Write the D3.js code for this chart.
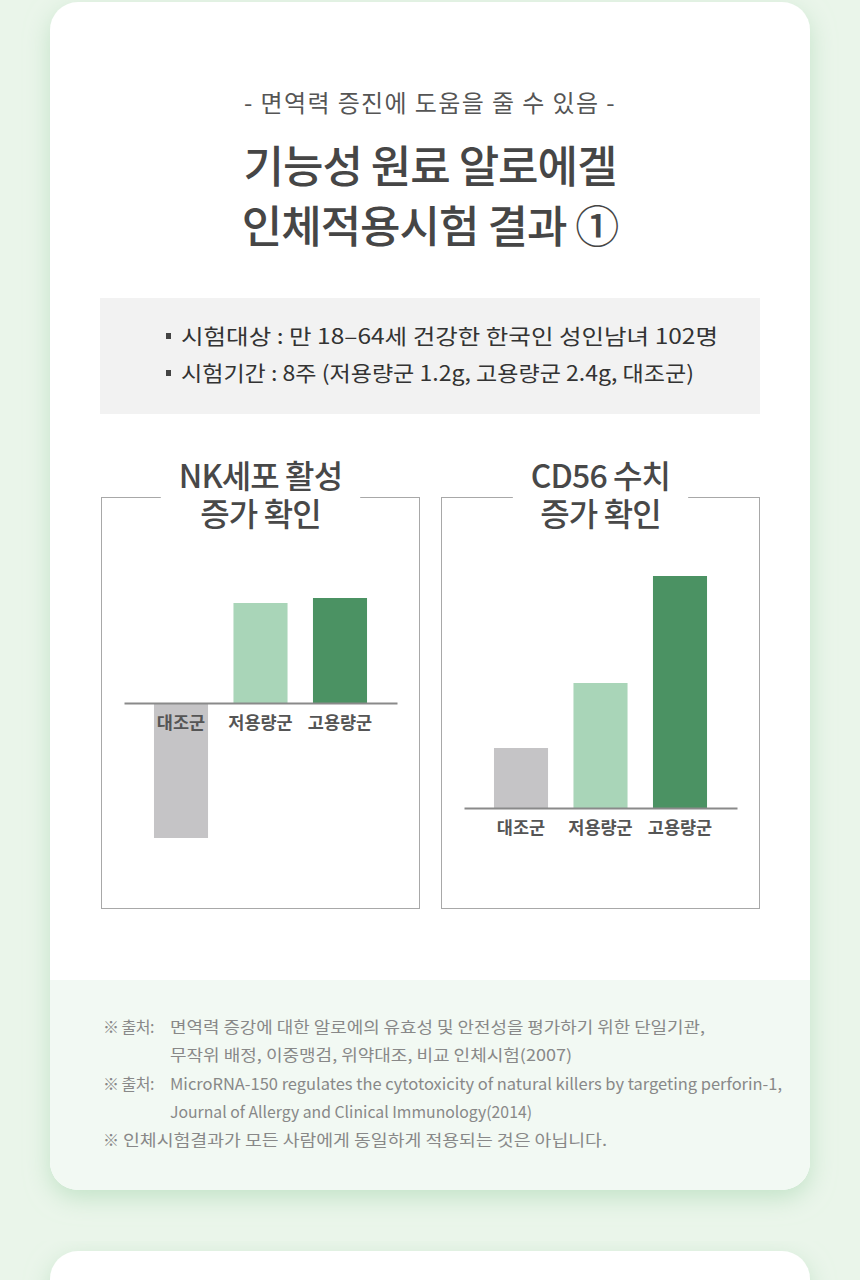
<!DOCTYPE html>
<html>
<head>
<meta charset="utf-8">
<script src="https://cdn.jsdelivr.net/npm/d3@7"></script>
<style>
  html, body { margin: 0; padding: 0; background: #eaf5ea; }
  svg { display: block; font-family: "Noto Sans CJK KR", "Noto Sans", sans-serif; }
</style>
</head>
<body>
<svg id="chart" width="860" height="1280"></svg>
<script>
// chart data (relative bar heights)
var groups = ["대조군", "저용량군", "고용량군"];
var nkValues = [-1.35, 1.00, 1.05];
var cd56Values = [0.60, 1.25, 2.32];
var barColors = ["#c5c4c6", "#a9d5b8", "#4b9263"];

var subtitle = "- 면역력 증진에 도움을 줄 수 있음 -";
var titleLines = ["기능성 원료 알로에겔", "인체적용시험 결과 ①"];
var infoLines = ["시험대상 : 만 18–64세 건강한 한국인 성인남녀 102명",
                 "시험기간 : 8주 (저용량군 1.2g, 고용량군 2.4g, 대조군)"];
var infoWidths = [537, 513];
var panelTitles = [["NK세포 활성", "증가 확인"], ["CD56 수치", "증가 확인"]];
var footLines = [
  ["※ 출처:", "면역력 증강에 대한 알로에의 유효성 및 안전성을 평가하기 위한 단일기관,"],
  ["", "무작위 배정, 이중맹검, 위약대조, 비교 인체시험(2007)"],
  ["※ 출처:", "MicroRNA-150 regulates the cytotoxicity of natural killers by targeting perforin-1,"],
  ["", "Journal of Allergy and Clinical Immunology(2014)"],
  ["※", "인체시험결과가 모든 사람에게 동일하게 적용되는 것은 아닙니다."]
];
var footWidths = [535, 402, 612, 362, 484];

var svg = d3.select("#chart");
var defs = svg.append("defs");
var shadow = defs.append("filter").attr("id", "shadow")
    .attr("x", "-10%").attr("y", "-10%").attr("width", "120%").attr("height", "120%");
shadow.append("feDropShadow").attr("dx", 0).attr("dy", 8).attr("stdDeviation", 12)
    .attr("flood-color", "#b9dfc0").attr("flood-opacity", 0.8);

// card background
var clip = defs.append("clipPath").attr("id", "cardclip");
clip.append("rect").attr("x", 50).attr("y", 2).attr("width", 760).attr("height", 1188).attr("rx", 28);
svg.append("rect").attr("x", 50).attr("y", 2).attr("width", 760).attr("height", 1188)
    .attr("rx", 28).attr("fill", "#fff").attr("filter", "url(#shadow)");
svg.append("rect").attr("x", 50).attr("y", 980).attr("width", 760).attr("height", 210)
    .attr("fill", "#f2f9f3").attr("clip-path", "url(#cardclip)");
// next card peeking at the bottom
svg.append("rect").attr("x", 50).attr("y", 1251).attr("width", 760).attr("height", 100)
    .attr("rx", 28).attr("fill", "#fff").attr("filter", "url(#shadow)");

// header
svg.append("text").attr("x", 430).attr("y", 112).attr("text-anchor", "middle")
    .attr("font-size", 24).attr("fill", "#555").attr("letter-spacing", 1.4).text(subtitle);
svg.selectAll(".title").data(titleLines).join("text")
    .attr("x", 430).attr("y", function(d, i) { return 183 + i * 60; })
    .attr("text-anchor", "middle").attr("font-size", 44).attr("font-weight", 500)
    .attr("fill", "#464646").attr("letter-spacing", -1).text(function(d) { return d; });

// info box
svg.append("rect").attr("x", 100).attr("y", 298).attr("width", 660).attr("height", 116).attr("fill", "#f2f2f2");
var info = svg.selectAll(".info").data(infoLines).join("g")
    .attr("transform", function(d, i) { return "translate(166," + (344 + i * 37) + ")"; });
info.append("rect").attr("x", 0).attr("y", -11).attr("width", 5).attr("height", 6).attr("fill", "#444");
info.append("text").attr("x", 15).attr("font-size", 21).attr("fill", "#333")
    .attr("textLength", function(d, i) { return infoWidths[i]; })
    .attr("lengthAdjust", "spacingAndGlyphs")
    .text(function(d) { return d; });

// panels
function drawPanel(px, values, titles, baseY, yDomain) {
  var g = svg.append("g");
  var top = 497, bottom = 908, w = 318;
  g.append("rect").attr("x", px + 0.5).attr("y", top + 0.5).attr("width", w).attr("height", bottom - top)
      .attr("fill", "none").attr("stroke", "#a8a8a8").attr("stroke-width", 1);
  var cx = px + w / 2 + 0.5;
  // two-line title in one text element
  var t = g.append("text").attr("text-anchor", "middle").attr("font-size", 32).attr("font-weight", 500)
      .attr("fill", "#484848").attr("letter-spacing", -0.9);
  t.selectAll("tspan").data(titles).join("tspan")
      .attr("x", cx).attr("y", function(d, i) { return 488 + i * 38; })
      .text(function(d) { return d; });
  var bb = t.node().getBBox();
  g.insert("rect", "text").attr("x", bb.x - 18).attr("y", bb.y).attr("width", bb.width + 36)
      .attr("height", bb.height).attr("fill", "#fff");

  var x = d3.scaleBand().domain(groups).range([px + 23, px + 296]).paddingInner(0.32).paddingOuter(0.377);
  var y = d3.scaleLinear().domain(yDomain).range([baseY, baseY - 100]);
  g.selectAll(".bar").data(values).join("rect")
      .attr("x", function(d, i) { return x(groups[i]); })
      .attr("width", x.bandwidth())
      .attr("y", function(d) { return Math.min(y(d), y(0)); })
      .attr("height", function(d) { return Math.abs(y(d) - y(0)); })
      .attr("fill", function(d, i) { return barColors[i]; });
  var axis = g.append("g").attr("transform", "translate(0," + y(0) + ")")
      .call(d3.axisBottom(x).tickSize(0).tickPadding(9));
  axis.select(".domain").attr("stroke", "#8a8a8a").attr("stroke-width", 2);
  axis.selectAll("text").attr("font-size", 17.5).attr("font-weight", 600).attr("fill", "#555")
      .attr("font-family", "'Noto Sans CJK KR', sans-serif")
      .attr("dy", "0.95em");
}
drawPanel(101, nkValues, panelTitles[0], 703, [0, 1]);
drawPanel(441, cd56Values, panelTitles[1], 808, [0, 1]);

// footnotes
var foot = svg.selectAll(".foot").data(footLines).join("g")
    .attr("transform", function(d, i) { return "translate(0," + (1033 + i * 28.3) + ")"; });
foot.append("text").attr("x", 103).attr("font-size", 16).attr("fill", "#888")
    .attr("letter-spacing", -0.5).text(function(d) { return d[0]; });
foot.append("text").attr("x", function(d) { return d[0] === "※" ? 123 : 170; })
    .attr("font-size", 16).attr("fill", "#888")
    .attr("textLength", function(d, i) { return footWidths[i]; })
    .attr("lengthAdjust", "spacingAndGlyphs")
    .text(function(d) { return d[1]; });
</script>
</body>
</html>
